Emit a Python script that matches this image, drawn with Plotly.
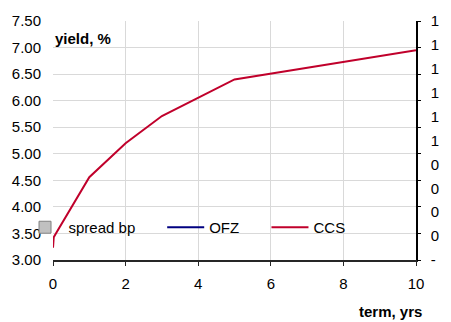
import plotly.graph_objects as go

# CCS yield curve (term in years, yield in %)
term_yrs = [0, 0.02, 0.08, 1, 2, 3, 5, 10]
ccs_yield = [3.23, 3.43, 3.50, 4.56, 5.20, 5.71, 6.40, 6.95]

# Series shown only in the legend (no observations)
ofz_term = [None]
ofz_yield = [None]
spread_term = [None]
spread_bp = [None]

# Right-hand axis labels (spread scale)
spread_ticks = [0, 0.1, 0.2, 0.3, 0.4, 0.5, 0.6, 0.7, 0.8, 0.9, 1.0]
spread_labels = ["-", "0", "0", "0", "0", "1", "1", "1", "1", "1", "1"]

FONT = "Liberation Sans, Arial, sans-serif"
FS = 15
GRID = "#d9d9d9"
RED = "#c0002b"
NAVY = "#000080"

fig = go.Figure()

fig.add_trace(go.Bar(
    x=spread_term, y=spread_bp, name="spread bp", yaxis="y2",
    marker=dict(color="#c0c0c0", line=dict(color="#808080", width=1)),
    legend="legend",
))
fig.add_trace(go.Scatter(
    x=ofz_term, y=ofz_yield, name="OFZ", mode="lines",
    line=dict(color=NAVY, width=2), legend="legend2",
))
fig.add_trace(go.Scatter(
    x=term_yrs, y=ccs_yield, name="CCS", mode="lines",
    line=dict(color=RED, width=2), legend="legend3",
))
# carrier for the right-hand tick marks
fig.add_trace(go.Scatter(x=[None], y=[None], yaxis="y3", showlegend=False))

legend_common = dict(
    orientation="h", bgcolor="rgba(0,0,0,0)", borderwidth=0,
    font=dict(family=FONT, size=FS, color="#000000"),
    yref="paper", y=0.136, yanchor="middle", xref="paper", xanchor="left",
    itemwidth=37,
)

fig.update_layout(
    width=451, height=322,
    margin=dict(l=52, r=30, t=18, b=62),
    paper_bgcolor="white", plot_bgcolor="white",
    font=dict(family=FONT, size=FS, color="#000000"),
    xaxis=dict(
        range=[0, 10], tickvals=[0, 2, 4, 6, 8, 10],
        showgrid=True, gridcolor=GRID, gridwidth=1,
        showline=True, linecolor="#262626", linewidth=1.5,
        ticks="outside", ticklen=4, tickcolor="#262626", tickwidth=1,
        zeroline=False, tickfont=dict(size=FS), ticklabelstandoff=5,
    ),
    yaxis=dict(
        range=[3, 7.5], dtick=0.5, tick0=3, tickformat=".2f",
        showgrid=True, gridcolor=GRID, gridwidth=1,
        showline=False, ticks="", zeroline=False,
        ticklabelstandoff=11, tickfont=dict(size=FS),
    ),
    yaxis2=dict(
        overlaying="y", side="right", anchor="x",
        range=[0, 1], tickvals=spread_ticks, ticktext=spread_labels,
        showgrid=False, zeroline=False,
        showline=True, linecolor="#000000", linewidth=1.5,
        ticks="", ticklabelstandoff=10, tickfont=dict(size=FS),
    ),
    yaxis3=dict(
        overlaying="y", side="right", anchor="x",
        range=[3, 7.5], dtick=0.5, tick0=3,
        showgrid=False, zeroline=False, showline=False,
        ticks="outside", ticklen=4, tickcolor="#000000", tickwidth=1,
        showticklabels=False,
    ),
    legend=dict(legend_common, x=(20 - 52) / 369),
    legend2=dict(legend_common, x=(163 - 52) / 369),
    legend3=dict(legend_common, x=(269 - 52) / 369),
    barmode="overlay",
    showlegend=True,
    shapes=[
        # legend backdrop hides the gridlines behind the legend row
        dict(type="rect", xref="paper", yref="paper",
             x0=0, x1=(362 - 52) / 369, y0=(260 - 253) / 242, y1=(260 - 197) / 242,
             fillcolor="white", line=dict(width=0), layer="between"),
    ],
    annotations=[
        dict(text="<b>yield, %</b>", xref="paper", yref="paper",
             x=0.0, y=(260 - 36) / 242, xanchor="left", yanchor="middle",
             showarrow=False, font=dict(family=FONT, size=FS)),
        dict(text="<b>term, yrs</b>", xref="paper", yref="paper",
             x=(429 - 52) / 369, y=(260 - 312) / 242, xanchor="right", yanchor="middle",
             showarrow=False, font=dict(family=FONT, size=FS)),
    ],
)

fig.write_html("out.html")
